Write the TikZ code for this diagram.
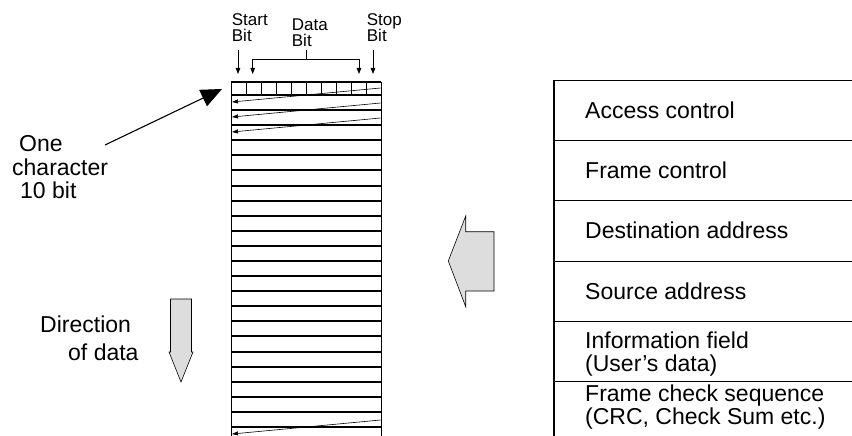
\documentclass[tikz,border=0pt]{standalone}
\usepackage{fontspec}
\setmainfont{Liberation Sans}
\usetikzlibrary{arrows.meta}
\definecolor{arrowgray}{RGB}{221,221,221}
\begin{document}
\begin{tikzpicture}[x=1pt,y=-1pt,
  bigtext/.style={font=\fontsize{23}{23.5}\selectfont, inner sep=0pt, anchor=base west, align=left},
  smalltext/.style={font=\fontsize{17}{16}\selectfont, inner sep=0pt, anchor=base west, align=left},
  tapeline/.style={line width=1.5pt},
  tapeside/.style={line width=1pt},
  cellline/.style={line width=0.9pt},
  diag/.style={line width=0.6pt, -{Triangle[length=6pt,width=4pt]}},
  bitarrow/.style={line width=0.9pt, -{Triangle[length=6pt,width=4.5pt]}},
  bracket/.style={line width=0.9pt},
  framebox/.style={line width=1.1pt},
  blockarrow/.style={draw=black, line width=0.6pt, fill=arrowgray},
  pointer/.style={line width=1.1pt, -{Triangle[length=21pt,width=18pt]}}
]
\useasboundingbox (0,0) rectangle (852,436);
\clip (0,0) rectangle (852,436);

% ---------- tape of characters ----------
\coordinate (tapeTL) at (231,82);
\coordinate (tapeTR) at (381,82);
\coordinate (tapeBL) at (231,437);
\coordinate (tapeBR) at (381,437);
\draw[tapeside] (tapeTL) -- (tapeBL) (tapeTR) -- (tapeBR);
\draw[tapeline] (tapeTL) -- (tapeTR);
\foreach \i in {0,...,22}
  \draw[tapeline] (231,{round(95+15.09*\i)}) -- (381,{round(95+15.09*\i)});
\foreach \i in {1,...,9}
  \draw[cellline] (231+15*\i,82) -- (231+15*\i,95);

% diagonal flow arrows
\foreach \y in {88,103,118,420}
  \draw[diag] (380.5,\y) -- (232,\y+14);

% ---------- bit labels ----------
\node[smalltext] (start) at (231.7,41.7) {Start\\Bit};
\node[smalltext] (data) at (291.7,47) {Data\\Bit};
\node[smalltext] (stop) at (366.7,41.7) {Stop\\Bit};

\coordinate (startA) at (238,50);
\coordinate (startB) at (238,74);
\coordinate (stopA) at (373,50);
\coordinate (stopB) at (373,74);
\draw[bitarrow] (startA) -- (startB);
\draw[bitarrow] (stopA) -- (stopB);

\coordinate (dataTop) at (306.7,50);
\coordinate (dataMid) at (306.7,59);
\coordinate (dataL) at (252.7,59);
\coordinate (dataR) at (359,59);
\coordinate (dataLB) at (252.7,74);
\coordinate (dataRB) at (359,74);
\draw[bracket] (dataTop) -- (dataMid) (dataL) -- (dataR);
\draw[bitarrow] (dataL) -- (dataLB);
\draw[bitarrow] (dataR) -- (dataRB);

% ---------- one character label ----------
\node[bigtext] (onechar) at (12,198.5) {\hspace*{7pt}One\\character\\\hspace*{8pt}10 bit};
\coordinate (ptrStart) at (105,145);
\coordinate (ptrEnd) at (222,89);
\draw[pointer] (ptrStart) -- (ptrEnd);

% ---------- direction of data ----------
\node[bigtext, font=\fontsize{23}{28}\selectfont] (dirtext) at (40,360) {Direction\\\hspace*{28pt}of data};
\draw[blockarrow] (170.5,299) -- (191.5,299) -- (191.5,352) -- (193,352)
  -- (181,382) -- (169,352) -- (170.5,352) -- cycle;

% ---------- block arrow to the left ----------
\draw[blockarrow] (448.3,261) -- (465.7,216) -- (465.7,231.7) -- (494,231.7)
  -- (494,291) -- (465.7,291) -- (465.7,306.7) -- cycle;

% ---------- frame structure ----------
\draw[framebox] (554,80.5) -- (554,440);
\foreach \y in {80.5,140.7,200.9,261.1,321.3,381.5}
  \draw[framebox] (554,\y) -- (860,\y);

\node[bigtext] (ac) at (585,118.5) {Access control};
\node[bigtext] (fc) at (585,178.7) {Frame control};
\node[bigtext] (da) at (585,238.9) {Destination address};
\node[bigtext] (sa) at (585,299.1) {Source address};
\node[bigtext] (info) at (585,371.5) {Information field\\(User's data)};
\node[bigtext] (fcs) at (585,424.5) {Frame check sequence\\(CRC, Check Sum etc.)};
\end{tikzpicture}
\end{document}
